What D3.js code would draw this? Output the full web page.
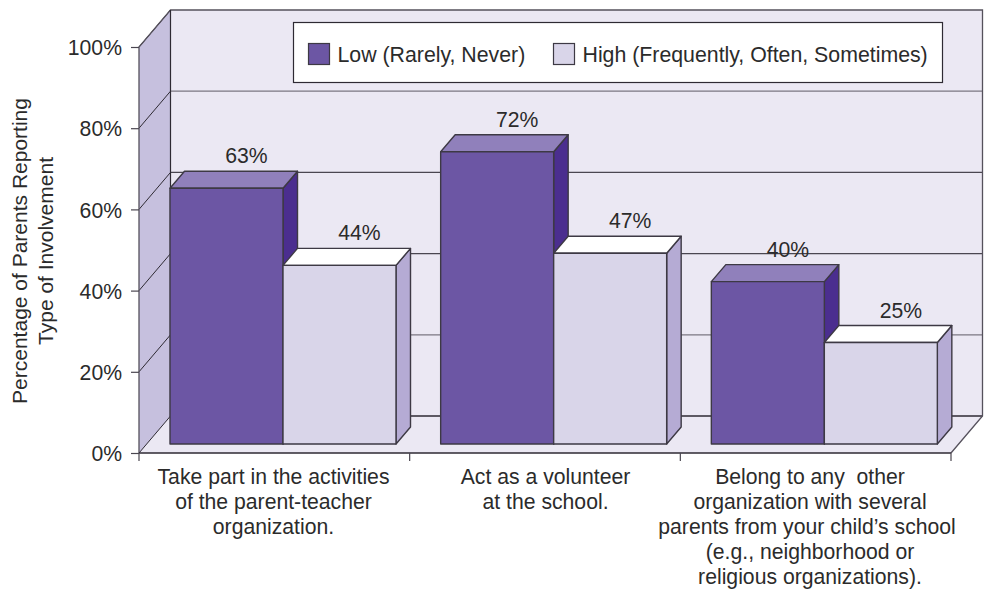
<!DOCTYPE html>
<html><head><meta charset="utf-8">
<script src="https://cdn.jsdelivr.net/npm/d3@7"></script>
<style>html,body{margin:0;padding:0;background:#fff}svg{display:block}text{font-family:"Liberation Sans",Arial,sans-serif;fill:#2b2b2b}</style>
</head><body><div id="c"></div>
<script>
const categories = [
 ["Take part in the activities","of the parent-teacher","organization."],
 ["Act as a volunteer","at the school."],
 ["Belong to any  other","organization with several","parents from your child\u2019s school ","(e.g., neighborhood or","religious organizations)."]];
const seriesNames = ["Low (Rarely, Never)","High (Frequently, Often, Sometimes)"];
const lowValues = [63,72,40];
const highValues = [44,47,25];
const yTicks = [0,20,40,60,80,100];
const yTitle = ["Percentage of Parents Reporting","Type of Involvement"];
const labelCentres = [273.5,545.5,810];

const W=987,H=590;
const svg=d3.select("#c").append("svg").attr("width",W).attr("height",H);
const x=d3.scaleBand().domain(d3.range(categories.length)).range([139,951]);
const y=d3.scaleLinear().domain([0,100]).range([453,47]);
const dx=31.5, dy=37;            // wall depth
const bx=14.5, by=17;            // bar depth
const barOffX=31, barOffY=9;     // bar placement on the floor
const barW=113;
const line="#2e2a33";
const poly=(pts,fill,stroke,sw=1.4)=>svg.append("polygon").attr("points",pts.map(p=>p.join(",")).join(" ")).attr("fill",fill).attr("stroke",stroke||"none").attr("stroke-width",sw).attr("stroke-linejoin","round");
const xL=x.range()[0], xR=x.range()[1], y0=y(0), y100=y(100);

// walls
poly([[xL+dx,y100-dy],[xR+dx,y100-dy],[xR+dx,y0-dy],[xL+dx,y0-dy]],"#ebe8f3",null);
poly([[xL,y0],[xR,y0],[xR+dx,y0-dy],[xL+dx,y0-dy]],"#ebe8f3",null);
poly([[xL,y100],[xL+dx,y100-dy],[xL+dx,y0-dy],[xL,y0]],"#c6c0de",null);

// gridlines
yTicks.forEach(t=>{
  const c=t===0||t===100?line:(t===40||t===60?"#4a4650":"#7b7782");
  if(t<100) svg.append("line").attr("x1",xL+dx).attr("x2",xR+dx).attr("y1",y(t)-dy).attr("y2",y(t)-dy).attr("stroke",c).attr("stroke-width",1.3);
  svg.append("line").attr("x1",xL).attr("x2",xL+dx).attr("y1",y(t)).attr("y2",y(t)-dy).attr("stroke",line).attr("stroke-width",1);
});
// wall frame
svg.append("path").attr("d",`M${xL},${y0}V${y100}L${xL+dx},${y100-dy}H${xR+dx}V${y0-dy}L${xR},${y0}`).attr("fill","none").attr("stroke","#55515c").attr("stroke-width",1.3);
svg.append("line").attr("x1",xL+dx).attr("x2",xL+dx).attr("y1",y100-dy).attr("y2",y0-dy).attr("stroke",line).attr("stroke-width",1.2);
svg.append("line").attr("x1",xL).attr("x2",xR).attr("y1",y0).attr("y2",y0).attr("stroke",line).attr("stroke-width",1.5);

// axes
const yAxis=d3.axisLeft(y).tickValues(yTicks).tickFormat(d=>d+"%").tickSize(8).tickPadding(9);
const gy=svg.append("g").attr("transform",`translate(${xL},0)`).call(yAxis);
gy.select(".domain").remove();
gy.selectAll(".tick line").attr("stroke","#4a4650").attr("stroke-width",1.2);
gy.selectAll(".tick text").attr("font-size",21.2).attr("fill","#2b2b2b").attr("font-family",'"Liberation Sans",Arial,sans-serif').attr("dy","0.36em");
const xTickPos=[...categories.map((_,i)=>x(i)),xR];
svg.append("g").selectAll("line").data(xTickPos).join("line").attr("x1",d=>d).attr("x2",d=>d).attr("y1",y0).attr("y2",y0+8).attr("stroke","#4a4650").attr("stroke-width",1.2);

// bars
const bar=(xs,v,front,side,top)=>{
  const b=y0-barOffY, t=y(v)-barOffY, r=xs+barW;
  poly([[r,b],[r+bx,b-by],[r+bx,t-by],[r,t]],side,"#3d3944");
  poly([[xs,t],[xs+bx,t-by],[r+bx,t-by],[r,t]],top,"#3d3944");
  poly([[xs,t],[r,t],[r,b],[xs,b]],front,"#3d3944");
};
categories.forEach((c,i)=>{
  const xs=x(i)+barOffX;
  bar(xs,lowValues[i],"#6c56a4","#4b2e8f","#9080bb");
  bar(xs+barW,highValues[i],"#d9d5e9","#b5abd4","#ffffff");
});
// value labels
categories.forEach((c,i)=>{
  const xs=x(i)+barOffX;
  [[lowValues[i],xs],[highValues[i],xs+barW]].forEach(([v,bxs])=>{
    svg.append("text").attr("x",bxs+barW/2+20).attr("y",y(v)-barOffY-by-8).attr("text-anchor","middle").attr("font-size",21.2).text(v+"%");
  });
});
// category labels
categories.forEach((c,i)=>{
  const t=svg.append("text").attr("text-anchor","middle").attr("font-size",21.2).attr("xml:space","preserve").style("white-space","pre");
  c.forEach((s,j)=>t.append("tspan").attr("x",labelCentres[i]).attr("y",483.5+j*25.2).text(s));
});
// y title
yTitle.forEach((s,i)=>{
  svg.append("text").attr("transform",`translate(${27+i*25.5},251) rotate(-90)`).attr("text-anchor","middle").attr("font-size",21).text(s);
});
// legend
svg.append("rect").attr("x",293.5).attr("y",22.5).attr("width",649).attr("height",60).attr("fill","#fff").attr("stroke",line).attr("stroke-width",1.2);
[[308,seriesNames[0],"#6c56a4"],[553,seriesNames[1],"#d9d5e9"]].forEach(([lx,s,f])=>{
  svg.append("rect").attr("x",lx+.5).attr("y",43.5).attr("width",21).attr("height",21).attr("fill",f).attr("stroke","#3d3944").attr("stroke-width",1.2);
  svg.append("text").attr("x",lx+29.5).attr("y",61.5).attr("font-size",21.3).text(s);
});
</script></body></html>
